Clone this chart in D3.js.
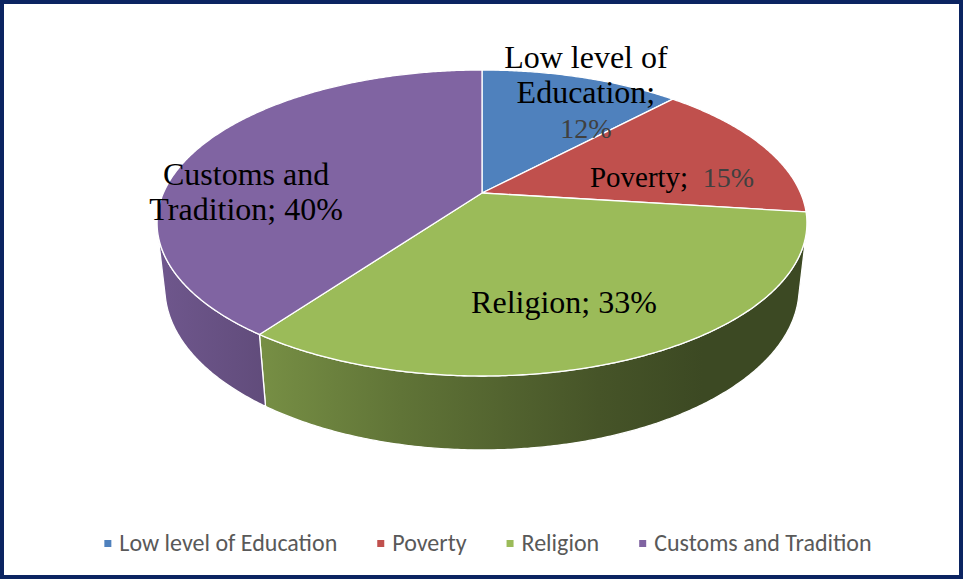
<!DOCTYPE html>
<html>
<head>
<meta charset="utf-8">
<script src="https://cdn.jsdelivr.net/npm/d3@7"></script>
<style>
  html, body { margin: 0; padding: 0; background: #ffffff; }
  svg { display: block; }
</style>
</head>
<body>
<svg id="chart" width="963" height="579"></svg>
<script>
// ---------- DATA ----------
const categories = ["Low level of Education", "Poverty", "Religion", "Customs and Tradition"];
const values = [12, 15, 33, 40];
const colors = ["#4f81bd", "#c0504d", "#9bbb59", "#8064a2"];
// data label text (category part split into lines); percent is taken from values
const labelNameLines = [["Low level of", "Education;"], ["Poverty;  "], ["Religion; "], ["Customs and", "Tradition; "]];
const percentOnNewLine = [true, false, false, false];
const percentGray = [true, true, false, false];

// ---------- LAYOUT ----------
const W = 963, H = 579;
const cx = 482, cy = 193;           // projected pie centre
const F = 1441.7, Dcam = 4.525;      // perspective constants
const phi = 27.5 * Math.PI / 180;    // elevation
const sp = Math.sin(phi), cp = Math.cos(phi);
const thick = 0.232;                 // pie thickness (radius = 1)
// label anchors: [angle in degrees from 12 o'clock, radius fraction]
const labelPolar = [[25.4, 0.8785], [79.0, 0.6215], [160.85, 0.685], [270.8, 0.742]];
const labelFontSizes = [32, 29, 32, 32];
const grayFontSize = 28;
const labelLineH = 35;

const svg = d3.select("#chart");

function project(theta, r, y) {
  const X = r * Math.sin(theta), Z = r * Math.cos(theta), Y = y || 0;
  const dist = Dcam + Z * cp - Y * sp;
  return [cx + F * X / dist, cy - F * (Z * sp + Y * cp) / dist];
}

const arcs = d3.pie().sort(null).value(d => d)(values);
const line = d3.line();

function sample(a, b) {
  const n = Math.max(2, Math.ceil(Math.abs(b - a) / (0.5 * Math.PI / 180)));
  return d3.range(n + 1).map(i => a + (b - a) * i / n);
}

// gradient for side walls
const defs = svg.append("defs");
const shadeStops = [[0, 0.87], [0.166, 0.76], [0.375, 0.62], [0.68, 0.45], [0.84, 0.39], [1, 0.39]];
const xMin = d3.min(d3.range(0, 360, 0.5), a => project(a * Math.PI / 180, 1)[0]);
const xMax = d3.max(d3.range(0, 360, 0.5), a => project(a * Math.PI / 180, 1)[0]);
colors.forEach((c, i) => {
  const g = defs.append("linearGradient").attr("id", "side" + i)
    .attr("gradientUnits", "userSpaceOnUse")
    .attr("x1", xMin).attr("x2", xMax).attr("y1", 0).attr("y2", 0);
  const base = d3.rgb(c);
  shadeStops.forEach(([o, f]) => {
    g.append("stop").attr("offset", o)
      .attr("stop-color", d3.rgb(base.r * f, base.g * f, base.b * f).formatHex());
  });
});

// visible part of the outer wall
const c0 = Math.acos(-1 / (Dcam * cp));
const visA = c0, visB = 2 * Math.PI - c0;

const gSides = svg.append("g");
arcs.forEach((d, i) => {
  const a = Math.max(d.startAngle, visA), b = Math.min(d.endAngle, visB);
  if (b <= a) return;
  const ts = sample(a, b);
  const pts = ts.map(t => project(t, 1, 0)).concat(ts.slice().reverse().map(t => project(t, 1, -thick)));
  gSides.append("path")
    .attr("d", line(pts) + "Z")
    .attr("fill", `url(#side${i})`)
    .attr("stroke", "#ffffff").attr("stroke-width", 1.3).attr("stroke-linejoin", "round");
});

const gTops = svg.append("g");
arcs.forEach((d, i) => {
  const ts = sample(d.startAngle, d.endAngle);
  const pts = [project(0, 0)].concat(ts.map(t => project(t, 1, 0)));
  gTops.append("path")
    .attr("d", line(pts) + "Z")
    .attr("fill", colors[i])
    .attr("stroke", "#ffffff").attr("stroke-width", 1.3).attr("stroke-linejoin", "round");
});

// data labels
const gLabels = svg.append("g")
  .attr("font-family", "'Times New Roman', 'Liberation Serif', serif")
  .attr("text-anchor", "middle");
arcs.forEach((d, i) => {
  const [ang, r] = labelPolar[i];
  const [lx, ly] = project(ang * Math.PI / 180, r);
  const pct = values[i] + "%";
  const lines = labelNameLines[i].map(s => [{ t: s, gray: false }]);
  if (percentOnNewLine[i]) lines.push([{ t: pct, gray: percentGray[i] }]);
  else lines[lines.length - 1].push({ t: pct, gray: percentGray[i] });
  const n = lines.length;
  lines.forEach((segs, k) => {
    const txt = gLabels.append("text")
      .attr("x", lx)
      .attr("y", ly + (k - (n - 1) / 2) * labelLineH + 11)
      .attr("font-size", labelFontSizes[i])
      .style("white-space", "pre");
    segs.forEach(s => txt.append("tspan")
      .attr("fill", s.gray ? "#404040" : "#000000")
      .attr("font-size", s.gray ? grayFontSize : labelFontSizes[i])
      .text(s.t));
  });
});

// legend
const legend = svg.append("g")
  .attr("font-family", "Carlito, Calibri, Lato, sans-serif")
  .attr("font-size", 24)
  .attr("fill", "#595959");
const items = categories.map((c, i) => {
  const g = legend.append("g");
  g.append("rect").attr("x", 0).attr("y", -11).attr("width", 7).attr("height", 7).attr("fill", colors[i]);
  const t = g.append("text").attr("x", 15).attr("y", 0).text(c);
  const w = 15 + t.node().getComputedTextLength();
  return { g, w };
});
const gap = 40;
const total = d3.sum(items, d => d.w) + gap * (items.length - 1);
let xpos = 488 - total / 2;
items.forEach(it => {
  it.g.attr("transform", `translate(${xpos},551)`);
  xpos += it.w + gap;
});

// outer border
svg.append("rect").attr("x", 2).attr("y", 2).attr("width", W - 4).attr("height", H - 4)
  .attr("fill", "none").attr("stroke", "#0b2461").attr("stroke-width", 4);
</script>
</body>
</html>
